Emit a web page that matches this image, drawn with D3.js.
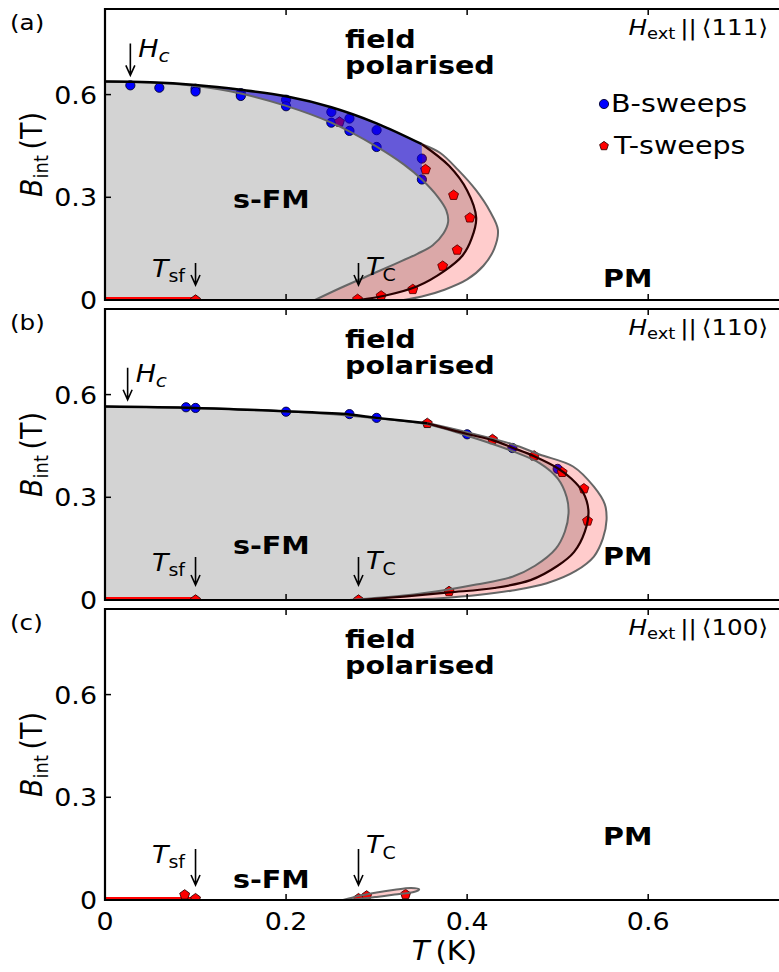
<!DOCTYPE html>
<html><head><meta charset="utf-8">
<script src="https://cdn.jsdelivr.net/npm/d3@7"></script>
<style>body{margin:0;background:#fff}svg{display:block}text{font-family:"DejaVu Sans",sans-serif;fill:#000}</style>
</head><body><svg id="chart" width="779" height="972"></svg>
<script>
// Axis ticks and panel captions
const tempTicks = [0, 0.2, 0.4, 0.6];
const fieldTicks = [0, 0.3, 0.6];
const panelTags = ["(a)", "(b)", "(c)"];
const fieldAxes = ["⟨111⟩", "⟨110⟩", "⟨100⟩"];

// (a) H_ext || <111> : phase boundary, inner / outer hysteresis edges, data
const a_boundary = [[0,0.638],[0.05,0.636],[0.1,0.628],[0.15,0.614],[0.2,0.595],[0.25,0.563],[0.3,0.516],[0.35,0.455],[0.38,0.392],[0.40,0.32],[0.41,0.24],[0.405,0.18],[0.395,0.13],[0.375,0.085],[0.345,0.04],[0.31,0.013],[0.28,0]];
const a_inner = [[0,0.638],[0.05,0.635],[0.1,0.625],[0.15,0.603],[0.2,0.567],[0.25,0.518],[0.3,0.448],[0.33,0.396],[0.35,0.352],[0.368,0.3],[0.377,0.262],[0.379,0.228],[0.374,0.195],[0.362,0.16],[0.345,0.135],[0.32,0.105],[0.29,0.07],[0.26,0.035],[0.232,0]];
const a_outer = [[0.35,0.455],[0.37,0.43],[0.39,0.38],[0.41,0.32],[0.425,0.26],[0.434,0.205],[0.43,0.15],[0.418,0.1],[0.40,0.06],[0.375,0.03],[0.35,0.01],[0.33,0]];
const a_bSweeps = [[0.028,0.627],[0.06,0.62],[0.1,0.617],[0.1,0.609],[0.15,0.604],[0.15,0.596],[0.2,0.585],[0.2,0.566],[0.25,0.549],[0.25,0.518],[0.27,0.53],[0.27,0.494],[0.30,0.496],[0.30,0.447],[0.35,0.413],[0.35,0.352]];
const a_tSweeps = [[0.1,0.0],[0.259,0.52],[0.354,0.381],[0.385,0.306],[0.403,0.24],[0.389,0.146],[0.373,0.099],[0.34,0.031],[0.305,0.012],[0.279,0.002]];

// (b) H_ext || <110>
const b_boundary = [[0,0.565],[0.1,0.561],[0.2,0.551],[0.27,0.542],[0.3,0.532],[0.356,0.516],[0.4,0.485],[0.428,0.467],[0.45,0.445],[0.474,0.42],[0.5,0.385],[0.515,0.355],[0.528,0.315],[0.534,0.26],[0.53,0.2],[0.518,0.14],[0.5,0.1],[0.47,0.058],[0.43,0.035],[0.38,0.022],[0.33,0.01],[0.28,0]];
const b_inner = [[0,0.565],[0.1,0.561],[0.2,0.551],[0.3,0.531],[0.356,0.513],[0.4,0.48],[0.45,0.435],[0.48,0.40],[0.50,0.355],[0.51,0.3],[0.512,0.253],[0.508,0.2],[0.498,0.15],[0.475,0.1],[0.45,0.068],[0.41,0.045],[0.378,0.03],[0.33,0.013],[0.27,0]];
const b_outer = [[0.356,0.517],[0.40,0.49],[0.45,0.455],[0.48,0.425],[0.517,0.39],[0.54,0.331],[0.552,0.28],[0.554,0.234],[0.55,0.18],[0.54,0.127],[0.52,0.085],[0.488,0.049],[0.45,0.028],[0.414,0.015],[0.37,0.005],[0.33,0]];
const b_bSweeps = [[0.0895,0.563],[0.1,0.561],[0.2,0.55],[0.27,0.543],[0.30,0.532],[0.40,0.484],[0.45,0.444],[0.50,0.383]];
const b_tSweeps = [[0.1,0.0],[0.356,0.516],[0.428,0.469],[0.474,0.421],[0.505,0.373],[0.529,0.325],[0.533,0.231],[0.38,0.025],[0.28,0.0]];

// (c) H_ext || <100>
const c_outer = [[0.263,0],[0.28,0.012],[0.30,0.022],[0.32,0.03],[0.338,0.035],[0.347,0.031],[0.342,0.024],[0.32,0.016],[0.30,0.009],[0.28,0.003],[0.263,0]];
const c_tSweeps = [[0.088,0.015],[0.1,0.004],[0.28,0.004],[0.289,0.012],[0.332,0.016]];

// Spin-flop segment along B = 0 and arrow positions (T_sf, T_C)
const spinFlopRange = [0, 0.1];
const tSf = 0.1, tC = 0.28;

const panels = [
  {tag: panelTags[0], dir: fieldAxes[0], boundary: a_boundary, inner: a_inner, outer: a_outer, bSweeps: a_bSweeps, tSweeps: a_tSweeps, blueEdge: 0.35, hc: [0.028, 0.656], legend: true},
  {tag: panelTags[1], dir: fieldAxes[1], boundary: b_boundary, inner: b_inner, outer: b_outer, bSweeps: b_bSweeps, tSweeps: b_tSweeps, blueEdge: null, hc: [0.025, 0.585], legend: false},
  {tag: panelTags[2], dir: fieldAxes[2], boundary: null, inner: null, outer: c_outer, bSweeps: [], tSweeps: c_tSweeps, blueEdge: null, hc: null, legend: false}
];

const SX = 1.12; // horizontal text aspect
const svg = d3.select("#chart");
const defs = svg.append("defs");
const x = d3.scaleLinear().domain([0, 0.75]).range([105, 784]);
const panelTop = [9, 309, 609];
const panelH = 291;

function label(g, px, py, opts = {}) {
  const sx = opts.sx || SX;
  const t = g.append("text")
    .attr("transform", `translate(${px},${py}) scale(${sx},1)` + (opts.rotate ? ` rotate(${opts.rotate})` : ""))
    .attr("font-size", opts.size || 24)
    .attr("text-anchor", opts.anchor || "start");
  if (opts.weight) t.attr("font-weight", opts.weight);
  if (opts.text !== undefined) t.text(opts.text);
  return t;
}

function pentagon(r) {
  const pts = d3.range(5).map(k => {
    const a = -Math.PI / 2 + k * 2 * Math.PI / 5;
    return [r * Math.cos(a), r * Math.sin(a)];
  });
  return "M" + pts.map(p => p[0].toFixed(2) + "," + p[1].toFixed(2)).join("L") + "Z";
}

panels.forEach((p, i) => {
  const top = panelTop[i], bottom = top + panelH;
  const y = d3.scaleLinear().domain([0, 0.85]).range([bottom, top]);
  const line = d3.line().x(d => x(d[0])).y(d => y(d[1])).curve(d3.curveCatmullRom.alpha(0.5));
  const closed = parts => parts.map((pts, k) => {
    const s = pts.length > 2 ? line(pts) : "M" + pts.map(q => x(q[0]) + "," + y(q[1])).join("L");
    return k ? s.replace(/^M/, "L") : s;
  }).join("") + "Z";

  defs.append("clipPath").attr("id", "clip" + i)
    .append("rect").attr("x", x(0)).attr("y", top).attr("width", 690).attr("height", panelH);
  const g = svg.append("g");
  const plot = g.append("g").attr("clip-path", `url(#clip${i})`);

  // ordered region (s-FM) under the phase boundary
  if (p.boundary) {
    plot.append("path").attr("d", closed([p.boundary, [[p.boundary[p.boundary.length - 1][0], 0], [0, 0]]]))
      .attr("fill", "#d3d3d3");
  }

  // spin-flop line along the T axis
  plot.append("line").attr("x1", x(spinFlopRange[0])).attr("x2", x(spinFlopRange[1]))
    .attr("y1", y(0) - 1.5).attr("y2", y(0) - 1.5).attr("stroke", "#ff0000").attr("stroke-width", 3);

  // measured points
  plot.selectAll(".bs").data(p.bSweeps).join("circle")
    .attr("cx", d => x(d[0])).attr("cy", d => y(d[1])).attr("r", 4.6)
    .attr("fill", "#0000ff").attr("stroke", "#000033").attr("stroke-width", 0.9);
  plot.selectAll(".ts").data(p.tSweeps).join("path")
    .attr("transform", d => `translate(${x(d[0])},${y(d[1])})`).attr("d", pentagon(5.2))
    .attr("fill", "#ff0000").attr("stroke", "#330000").attr("stroke-width", 0.9);

  // hysteresis band of the temperature sweeps
  if (p.inner) {
    const start = p.inner.findIndex(d => d[0] >= p.outer[0][0] - 0.001);
    const innerLow = p.inner.slice(start).reverse();
    const outerEnd = p.outer[p.outer.length - 1];
    plot.append("path")
      .attr("d", closed([p.outer, [[outerEnd[0], 0], [innerLow[0][0], 0]], innerLow]))
      .attr("fill", "#ff0000").attr("fill-opacity", 0.2);
  } else {
    plot.append("path").attr("d", closed([p.outer])).attr("fill", "#ff0000").attr("fill-opacity", 0.2);
  }

  // hysteresis band of the field sweeps
  if (p.blueEdge) {
    const up = p.boundary.filter((d, k) => k < 8 && d[0] >= 0.05 && d[0] <= p.blueEdge);
    const low = p.inner.filter((d, k) => k < 9 && d[0] >= 0.05 && d[0] <= p.blueEdge).reverse();
    plot.append("path").attr("d", closed([up, low]))
      .attr("fill", "#1400dc").attr("fill-opacity", 0.58);
  }

  // band edges and phase boundary
  if (p.inner) plot.append("path").attr("d", line(p.inner)).attr("fill", "none").attr("stroke", "#666").attr("stroke-width", 2);
  if (p.outer && p.inner) plot.append("path").attr("d", line(p.outer)).attr("fill", "none").attr("stroke", "#666").attr("stroke-width", 2);
  if (!p.inner) plot.append("path").attr("d", closed([p.outer])).attr("fill", "none").attr("stroke", "#666").attr("stroke-width", 2);
  if (p.boundary) {
    const nose = p.boundary.findIndex(d => d[0] >= 0.35);
    plot.append("path").attr("d", line(p.boundary.slice(0, nose + 1))).attr("fill", "none").attr("stroke", "#000").attr("stroke-width", 2.5);
    plot.append("path").attr("d", line(p.boundary.slice(nose))).attr("fill", "none").attr("stroke", "#2a0000").attr("stroke-width", 2.2);
  }

  // frame (right edge lies beyond the page)
  g.append("path").attr("d", `M${x(0.77)},${top}H${x(0)}V${bottom}H${x(0.77)}`)
    .attr("fill", "none").attr("stroke", "#000").attr("stroke-width", 2.2);
  tempTicks.filter(t => t > 0).forEach(t => {
    g.append("line").attr("x1", x(t)).attr("x2", x(t)).attr("y1", bottom).attr("y2", bottom - 6).attr("stroke", "#000").attr("stroke-width", 1.5);
    g.append("line").attr("x1", x(t)).attr("x2", x(t)).attr("y1", top).attr("y2", top + 6).attr("stroke", "#000").attr("stroke-width", 1.5);
  });
  fieldTicks.filter(t => t > 0).forEach(t => {
    g.append("line").attr("x1", x(0)).attr("x2", x(0) + 6).attr("y1", y(t)).attr("y2", y(t)).attr("stroke", "#000").attr("stroke-width", 1.5);
  });
  fieldTicks.forEach(t => label(g, 97, y(t) + 9, {text: t === 0 ? "0" : String(t), anchor: "end", size: 24}));

  // y axis title
  const yl = label(g, 42, top + panelH / 2, {rotate: -90, anchor: "middle", size: 27});
  yl.append("tspan").attr("font-style", "italic").text("B");
  yl.append("tspan").attr("font-size", 18).attr("dy", 5).text("int");
  yl.append("tspan").attr("dy", -5).text("\u2009(T)");

  // panel tag and field direction
  label(g, 10, top + 21, {text: p.tag, size: 22});
  const hl = label(g, 768, top + 26, {anchor: "end", size: 22});
  hl.append("tspan").attr("font-style", "italic").text("H");
  hl.append("tspan").attr("font-size", 16).attr("dy", 4).text("ext");
  hl.append("tspan").attr("dy", -4).text("\u2009||\u2009" + p.dir);

  // phase labels
  const bold = {size: 24, weight: "bold", sx: 1.19};
  label(g, 345, top + 39, {...bold, text: "field"});
  label(g, 345, top + 65, {...bold, text: "polarised"});
  const fmY = [199, 245, 279][i];
  label(g, 233, top + fmY, {...bold, text: "s-FM"});
  const pmY = [278, 256, 236][i];
  label(g, 603, top + pmY, {...bold, text: "PM"});

  // arrows
  const arrow = (ax, y1, y2) => {
    g.append("path").attr("d", `M${ax},${y1}V${y2}M${ax - 4.5},${y2 - 10}L${ax},${y2}L${ax + 4.5},${y2 - 10}`)
      .attr("fill", "none").attr("stroke", "#000").attr("stroke-width", 1.6);
  };
  const arrowTop = [254, 248, 240][i];
  arrow(x(tSf), top + arrowTop, top + 276);
  arrow(x(tC), top + arrowTop, top + 276);
  const ts = label(g, 152, top + arrowTop + 14, {size: 24});
  ts.append("tspan").attr("font-style", "italic").text("T");
  ts.append("tspan").attr("font-size", 17).attr("dy", 5).text("sf");
  const tcY = [254, 248, 232][i];
  const tcl = label(g, 366, top + tcY + 12, {size: 24});
  tcl.append("tspan").attr("font-style", "italic").text("T");
  tcl.append("tspan").attr("font-size", 17).attr("dy", 6).text("C");
  if (p.hc) {
    const hx = x(p.hc[0]), hy = y(p.hc[1]);
    arrow(hx, hy - 32, hy);
    const hcl = label(g, hx + 8, hy - 18, {size: 24});
    hcl.append("tspan").attr("font-style", "italic").text("H");
    hcl.append("tspan").attr("font-style", "italic").attr("font-size", 18).attr("dy", 5).text("c");
  }

  // legend
  if (p.legend) {
    g.append("circle").attr("cx", 604).attr("cy", top + 95).attr("r", 4.6).attr("fill", "#0000ff").attr("stroke", "#000033").attr("stroke-width", 0.9);
    label(g, 611, top + 103, {text: "B-sweeps", size: 25.5});
    g.append("path").attr("transform", `translate(604,${top + 137})`).attr("d", pentagon(4.6)).attr("fill", "#ff0000").attr("stroke", "#330000").attr("stroke-width", 0.9);
    label(g, 614, top + 145, {text: "T-sweeps", size: 25.5});
  }

  // temperature axis labels on the last panel
  if (i === 2) {
    tempTicks.forEach(t => label(g, x(t), bottom + 30, {text: t === 0 ? "0" : String(t), anchor: "middle", size: 24}));
    const xl = label(g, x(0.375), bottom + 60, {anchor: "middle", size: 26});
    xl.append("tspan").attr("font-style", "italic").text("T");
    xl.append("tspan").text("\u2009(K)");
  }
});
</script></body></html>
